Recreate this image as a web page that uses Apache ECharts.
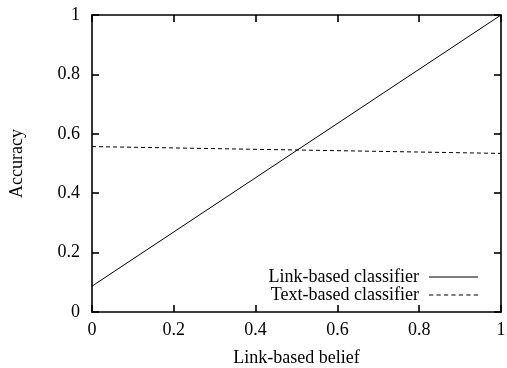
<!DOCTYPE html>
<html><head><meta charset="utf-8">
<script src="https://cdn.jsdelivr.net/npm/echarts@6/dist/echarts.min.js"></script>
<style>html,body{margin:0;padding:0;background:#fff}#c{width:507px;height:368px}</style>
</head><body><div id="c"></div>
<script>
var beliefs = [0, 1];
var linkAcc = [0.087, 1];
var textAcc = [0.557, 0.534];
var xTicks = [0, 0.2, 0.4, 0.6, 0.8, 1];
var yTicks = [0, 0.2, 0.4, 0.6, 0.8, 1];

var F = 'Liberation Serif, Times New Roman, serif';
var chart = echarts.init(document.getElementById('c'));
function fmt(v){ return String(Math.round(v*10)/10); }
var baseAxis = {
  type: 'value', min: 0, max: 1, interval: 0.2,
  axisLine: {show: true, onZero: false, lineStyle: {color: '#000', width: 1.6}},
  axisTick: {show: true, inside: true, length: 7, lineStyle: {color: '#000', width: 1.6}},
  splitLine: {show: false},
  axisLabel: {color: '#000', fontFamily: F, fontSize: 18, formatter: fmt}
};
chart.setOption({
  animation: false,
  grid: {left: 92, right: 6, top: 15, bottom: 56, containLabel: false, outerBoundsMode: 'none'},
  xAxis: [
    Object.assign({}, baseAxis, {position: 'bottom', name: 'Link-based belief', nameLocation: 'middle', nameGap: 37,
      nameTextStyle: {color: '#000', fontFamily: F, fontSize: 18},
      axisLabel: Object.assign({}, baseAxis.axisLabel, {margin: 9})}),
    Object.assign({}, baseAxis, {position: 'top', axisLabel: {show: false}})
  ],
  yAxis: [
    Object.assign({}, baseAxis, {position: 'left', name: 'Accuracy', nameLocation: 'middle', nameGap: 66,
      nameTextStyle: {color: '#000', fontFamily: F, fontSize: 18},
      axisLabel: Object.assign({}, baseAxis.axisLabel, {margin: 12})}),
    Object.assign({}, baseAxis, {position: 'right', axisLabel: {show: false}})
  ],
  legend: {
    orient: 'vertical', right: 29, top: 268, align: 'right', padding: 0,
    itemWidth: 49, itemHeight: 10, itemGap: 0,
    textStyle: {color: '#000', fontFamily: F, fontSize: 18, padding: [0, 5, 0, 0]},
    data: [
      {name: 'Link-based classifier', icon: 'path://M0,0L49,0L49,1L0,1Z'},
      {name: 'Text-based classifier', icon: 'path://M0,0L4,0L4,1L0,1ZM7,0L11,0L11,1L7,1ZM14,0L18,0L18,1L14,1ZM21,0L25,0L25,1L21,1ZM28,0L32,0L32,1L28,1ZM35,0L39,0L39,1L35,1ZM42,0L46,0L46,1L42,1Z'}
    ]
  },
  series: [
    {name: 'Link-based classifier', type: 'line', showSymbol: false, symbol: 'none',
     data: beliefs.map(function(x,i){return [x, linkAcc[i]];}),
     lineStyle: {color: '#000', width: 1}, itemStyle: {color: '#000'}},
    {name: 'Text-based classifier', type: 'line', showSymbol: false, symbol: 'none',
     data: beliefs.map(function(x,i){return [x, textAcc[i]];}),
     lineStyle: {color: '#000', width: 1, type: [4, 3]}, itemStyle: {color: '#000'}}
  ]
});
</script></body></html>
